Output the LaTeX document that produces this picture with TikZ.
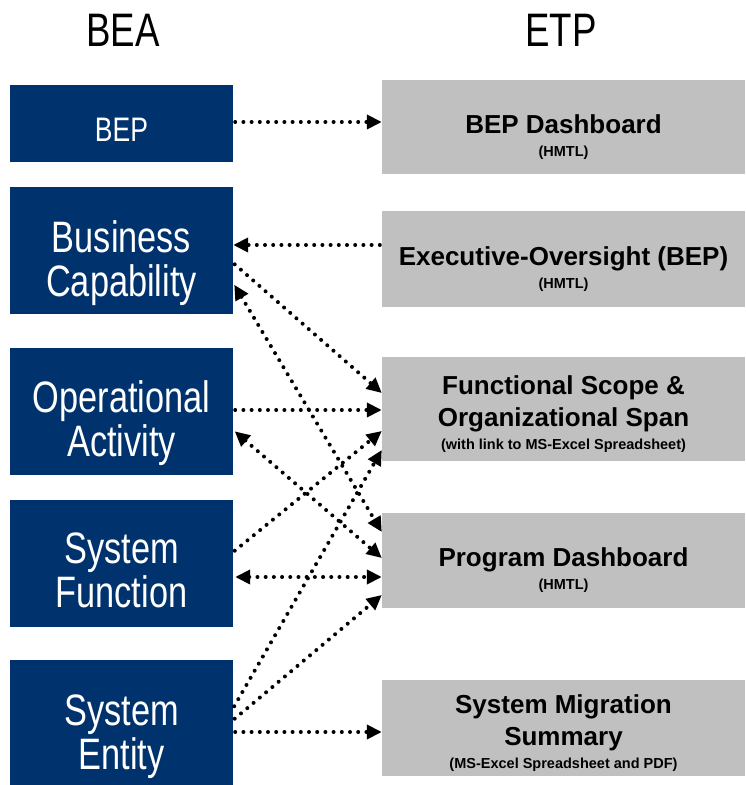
\documentclass[tikz,border=0pt]{standalone}
\usepackage{fontspec}
\usepackage{xcolor}
\usepackage{tikz}
\setmainfont{Liberation Sans}
\newfontfamily\condfont[FakeStretch=0.78]{Liberation Sans}
\usetikzlibrary{arrows.meta, positioning}

\definecolor{beanavy}{RGB}{0,51,110}
\definecolor{etpgray}{RGB}{192,192,192}

\newcommand{\note}[1]{{\fontsize{14.5}{17}\selectfont #1}}

\tikzset{
    head/.style={anchor=base, font=\condfont\fontsize{47}{50}\selectfont},
    bea/.style={fill=beanavy, text=white, minimum width=223pt, inner sep=0pt, align=center,
        font=\condfont\fontsize{44}{44}\selectfont},
    etp/.style={fill=etpgray, minimum width=363pt, inner sep=0pt, align=center,
        font=\bfseries\fontsize{26}{32}\selectfont},
    link/.style={line width=4pt, line cap=round, dash pattern=on 0pt off 8.2pt,
        shorten <=2pt, -{Triangle[length=15pt, width=14pt]}},
    both/.style={link, {Triangle[length=15pt, width=14pt]}-{Triangle[length=15pt, width=14pt]}},
}

\begin{document}
\begin{tikzpicture}[x=1pt, y=1pt]
    \useasboundingbox (0,0) rectangle (745,785);

    % column headers
    \node[head] (bea) at (123,738) {BEA};
    \node[head] (etp) at (561,738) {ETP};

    % BEA side (text height pushes the lines a little below centre)
    \node[bea, minimum height=77pt, text height=36pt, font=\condfont\fontsize{34}{40}\selectfont] (bep) at (121.5,661.5) {BEP};
    \node[bea, minimum height=127pt, text height=101pt] (bc) at (121.5,534.5) {Business\\Capability};
    \node[bea, minimum height=127pt, text height=99pt] (oa) at (121.5,373.5) {Operational\\Activity};
    \node[bea, minimum height=127pt, text height=89pt] (sf) at (121.5,221.5) {System\\Function};
    \node[bea, minimum height=125pt, text height=103pt] (se) at (121.5,62.5) {System\\Entity};

    % ETP side
    \node[etp, minimum height=94pt, text height=62pt] (bepd) at (563.5,658) {BEP Dashboard\\[-9pt]\note{(HMTL)}};
    \node[etp, minimum height=96pt, text height=62pt] (eo) at (563.5,526) {Executive-Oversight (BEP)\\[-9pt]\note{(HMTL)}};
    \node[etp, minimum height=104pt, text height=84pt] (fs) at (563.5,376) {Functional Scope \&\\Organizational Span\\[-9pt]\note{(with link to MS-Excel Spreadsheet)}};
    \node[etp, minimum height=95pt, text height=62pt] (pd) at (563.5,224.5) {Program Dashboard\\[-9pt]\note{(HMTL)}};
    \node[etp, minimum height=96pt, text height=84pt] (sms) at (563.5,57) {System Migration\\Summary\\[-9pt]\note{(MS-Excel Spreadsheet and PDF)}};

    % links
    \draw[link] ([yshift=1.5pt]bep.east) -- ([yshift=5pt]bepd.west);
    \draw[link] ([yshift=14pt]eo.west) -- ([yshift=5.5pt]bc.east);
    \draw[link] ([yshift=-12.5pt]bc.east) -- ([yshift=16pt]fs.west);
    \draw[both] ([yshift=-32.5pt]bc.east) -- ([yshift=28.5pt]pd.west);
    \draw[link] ([yshift=1.5pt]oa.east) -- ([yshift=-1pt]fs.west);
    \draw[both] ([yshift=-18.5pt]oa.east) -- ([yshift=2.5pt]pd.west);
    \draw[link] ([yshift=11.5pt]sf.east) -- ([yshift=-22pt]fs.west);
    \draw[both] ([yshift=-13.5pt]sf.east) -- ([yshift=-16.5pt]pd.west);
    \draw[link] ([yshift=14.5pt]se.east) -- ([yshift=-41pt]fs.west);
    \draw[link] ([yshift=2.5pt]se.east) -- ([yshift=-34.5pt]pd.west);
    \draw[link] ([yshift=-9.5pt]se.east) -- ([yshift=-4pt]sms.west);
\end{tikzpicture}
\end{document}
